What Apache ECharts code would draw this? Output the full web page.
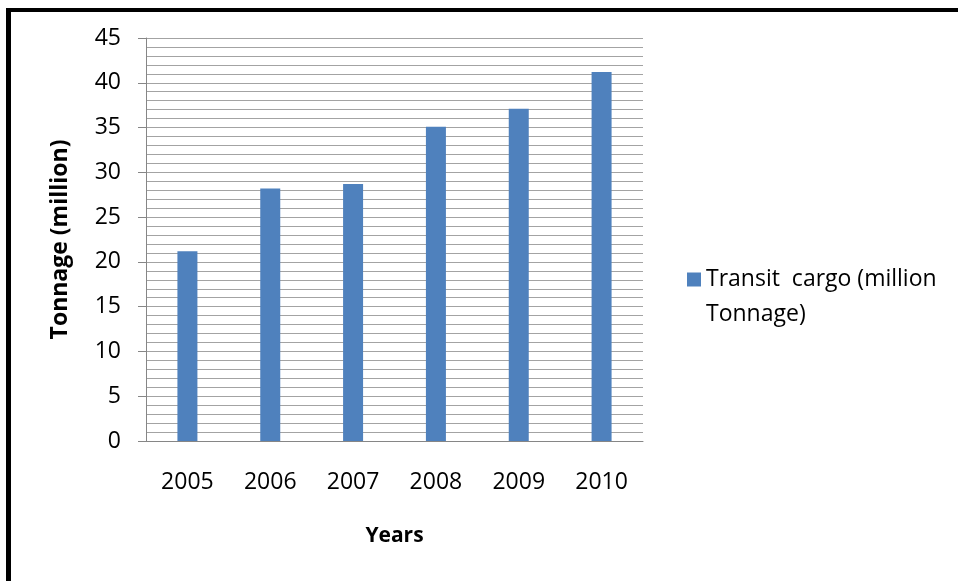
<!DOCTYPE html>
<html>
<head>
<meta charset="utf-8">
<script src="https://cdn.jsdelivr.net/npm/echarts@6/dist/echarts.min.js"></script>
<style>
  html, body { margin: 0; padding: 0; background: #fff; }
  #main { width: 958px; height: 581px; }
</style>
</head>
<body>
<div id="main"></div>
<script>
var years = ["2005", "2006", "2007", "2008", "2009", "2010"];
var transitCargo = [21.2, 28.2, 28.7, 35.1, 37.1, 41.2];
var seriesName = "Transit  cargo (million\nTonnage)";

var font = "'Open Sans', sans-serif";

var myChart = echarts.init(document.getElementById("main"));
myChart.setOption({
  animation: false,
  textStyle: { fontFamily: font },
  // black frame on the top and left edges
  graphic: [
    { type: "rect", left: 6, top: 8, shape: { width: 952, height: 4 }, style: { fill: "#000" } },
    { type: "rect", left: 6, top: 8, shape: { width: 5, height: 573 }, style: { fill: "#000" } },
  ],
  grid: {
    left: 146,
    right: 315,
    top: 38,
    bottom: 140,
    show: false,
  },
  legend: {
    left: 682,
    top: 222,
    itemWidth: 14,
    itemHeight: 14,
    itemGap: 0,
    icon: "rect",
    // blank first line so the marker sits beside the first text line
    formatter: function (name) {
      return "\n" + name;
    },
    textStyle: {
      fontSize: 23,
      color: "#000",
      lineHeight: 35,
      fontFamily: font,
    },
    data: [seriesName],
  },
  xAxis: {
    type: "category",
    data: years,
    name: "Years",
    nameLocation: "middle",
    nameGap: 85,
    nameTextStyle: { fontSize: 21, fontWeight: "bold", color: "#000", fontFamily: font },
    axisLine: { lineStyle: { color: "#868686", width: 1 } },
    axisTick: { show: false },
    axisLabel: { margin: 30, fontSize: 23, color: "#000", fontFamily: font },
  },
  yAxis: {
    type: "value",
    min: 0,
    max: 45,
    interval: 5,
    name: "Tonnage (million)",
    nameLocation: "middle",
    nameGap: 74,
    nameRotate: 90,
    nameTextStyle: { fontSize: 23, fontWeight: "bold", color: "#000", fontFamily: font },
    axisLine: { show: true, lineStyle: { color: "#868686", width: 1 } },
    axisTick: { show: true, length: 8, lineStyle: { color: "#868686" } },
    axisLabel: { margin: 25, fontSize: 23, color: "#000", fontFamily: font },
    splitLine: { show: true, lineStyle: { color: "#a3a3a3", width: 1 } },
    minorTick: { show: false, splitNumber: 5 },
    minorSplitLine: { show: true, lineStyle: { color: "#a3a3a3", width: 1 } },
  },
  series: [
    {
      name: seriesName,
      type: "bar",
      data: transitCargo,
      barWidth: 20,
      itemStyle: { color: "#4f81bd" },
    },
  ],
});
</script>
</body>
</html>
